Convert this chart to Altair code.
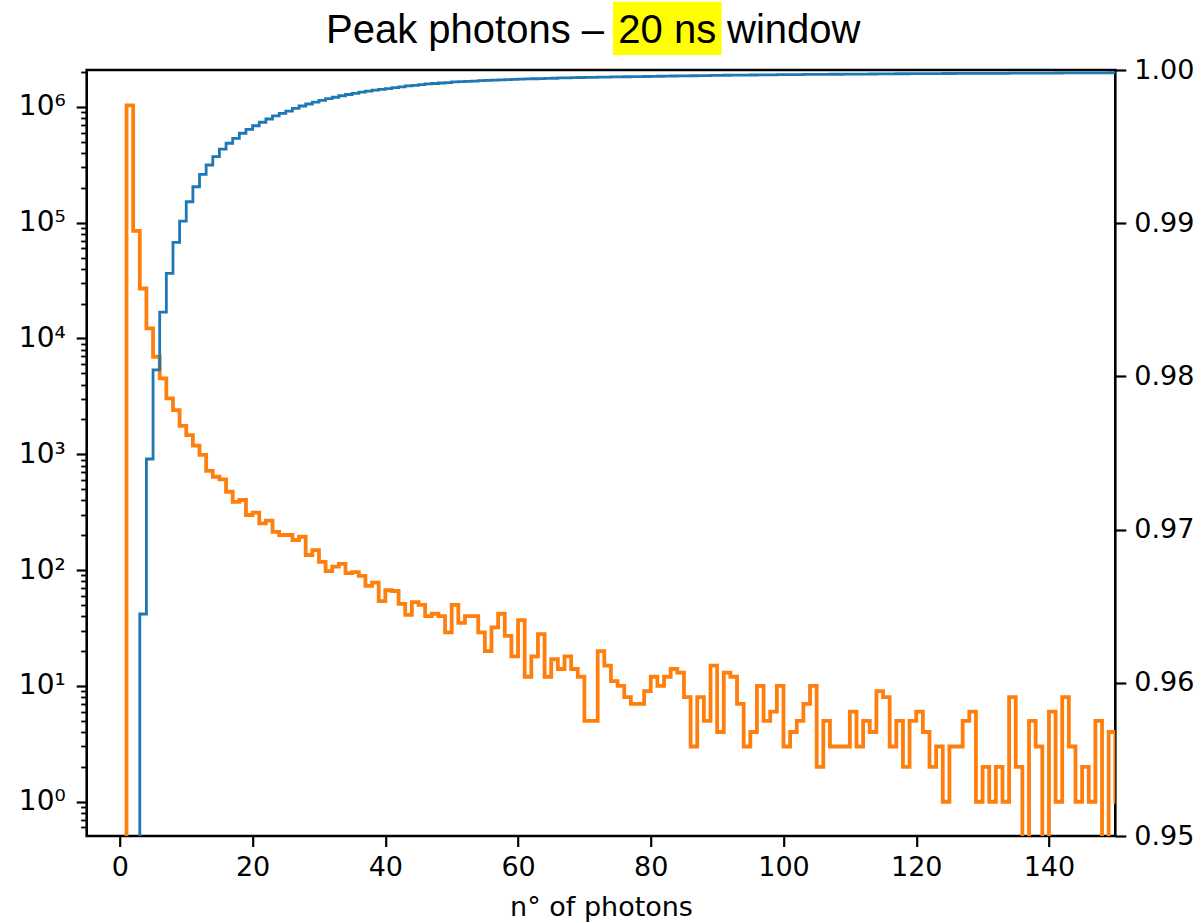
import altair as alt
import pandas as pd

# Unit-width photon-count bins (left edges)
photon_bins = list(range(0, 151))

# Events per bin, peak photons in a 20 ns window
peak_counts = [
    0, 1030000, 85000, 27000, 12200, 6950, 4520, 3040, 2410, 1760,   # 0-9
    1465, 1190, 990, 720, 640, 607, 475, 389, 403, 299,             # 10-19
    313, 253, 267, 214, 201, 201, 182, 194, 135, 149,               # 20-29
    118, 98, 107, 113, 94, 96, 89, 73, 78, 54,                      # 30-39
    67, 66, 51, 41, 53, 50, 40, 42, 40, 29,                         # 40-49
    50, 35, 40, 40, 29, 20, 32, 42, 27, 18,                         # 50-59
    37, 12, 18, 28, 12, 17, 14, 18, 14, 12,                         # 60-69
    5, 5, 20, 15, 11, 10, 8, 7, 7, 9,                               # 70-79
    12, 10, 12, 14, 13, 8, 3, 8, 5, 15,                             # 80-89
    4, 13, 12, 7, 3, 4, 10, 5, 6, 10,                               # 90-99
    3, 4, 5, 7, 10, 2, 5, 3, 3, 3,                                  # 100-109
    6, 3, 5, 4, 9, 8, 3, 5, 2, 5,                                   # 110-119
    6, 4, 2, 3, 1, 3, 3, 5, 6, 1,                                   # 120-129
    2, 1, 2, 1, 8, 2, 0, 5, 3, 0,                                   # 130-139
    6, 1, 8, 3, 1, 2, 1, 5, 0, 4,                                   # 140-149
    1,                                                              # 150
]

# Cumulative fraction of events (right axis)
cum_bins = list(range(2, 151))
cum_fraction = [
    0.94100, 0.96449, 0.97461, 0.98042, 0.98419, 0.98673, 0.98875, 0.99014, 0.99140, 0.99238,
    0.99319, 0.99380, 0.99434, 0.99484, 0.99522, 0.99554, 0.99587, 0.99613, 0.99636, 0.99659,
    0.99680, 0.99700, 0.99717, 0.99732, 0.99750, 0.99765, 0.99778, 0.99790, 0.99802, 0.99813,
    0.99822, 0.99832, 0.99840, 0.99848, 0.99855, 0.99862, 0.99868, 0.99873, 0.99879, 0.99885,
    0.99890, 0.99896, 0.99900, 0.99905, 0.99909, 0.99912, 0.99915, 0.99918, 0.99922, 0.99924,
    0.99926, 0.99928, 0.99930, 0.99932, 0.99934, 0.99935, 0.99937, 0.99939, 0.99941, 0.99942,
    0.99943, 0.99944, 0.99945, 0.99946, 0.99948, 0.999492, 0.999502, 0.999510, 0.999513, 0.999517,
    0.999531, 0.999541, 0.999548, 0.999555, 0.999561, 0.999565, 0.999570, 0.999576, 0.999584, 0.999591,
    0.999599, 0.999609, 0.999618, 0.999623, 0.999625, 0.999631, 0.999634, 0.999644, 0.999647, 0.999656,
    0.999664, 0.999669, 0.999671, 0.999674, 0.999681, 0.999684, 0.999688, 0.999695, 0.999697, 0.999700,
    0.999703, 0.999708, 0.999715, 0.999716, 0.999719, 0.999721, 0.999723, 0.999725, 0.999729, 0.999731,
    0.999735, 0.999738, 0.999744, 0.999749, 0.999751, 0.999755, 0.999756, 0.999759, 0.999763, 0.999766,
    0.999767, 0.999769, 0.999770, 0.999772, 0.999774, 0.999777, 0.999781, 0.999782, 0.999783, 0.999784,
    0.999785, 0.999786, 0.999791, 0.999793, 0.999793, 0.999796, 0.999798, 0.999798, 0.999802, 0.999803,
    0.999808, 0.999810, 0.999811, 0.999812, 0.999813, 0.999816, 0.999816, 0.999819, 0.999820,
]

x_ticks = [0, 20, 40, 60, 80, 100, 120, 140]
log_major = [1, 10, 100, 1000, 10000, 100000, 1000000]
log_minor = [m * 10 ** e for e in range(-1, 7) for m in range(2, 10)]
frac_ticks = [0.95, 0.96, 0.97, 0.98, 0.99, 1.00]
title_parts = ["Peak photons \u2013", "20 ns", "window"]

ORANGE = "#ff7f0e"
BLUE = "#1f77b4"
LOG_DOMAIN = [0.506, 2.08e6]

# step lines need the closing right edge of the last bin
hist = pd.DataFrame({"edge": photon_bins + [photon_bins[-1] + 1],
                     "n": peak_counts + [peak_counts[-1]]})
cum = pd.DataFrame({"edge": cum_bins + [cum_bins[-1] + 1],
                    "frac": cum_fraction + [cum_fraction[-1]]})

x_enc = alt.X(
    "edge:Q",
    scale=alt.Scale(domain=[-5, 150], nice=False, zero=False),
    axis=alt.Axis(values=x_ticks, title="n\u00b0 of photons", labelFlush=False,
                  tickSize=10.5, labelPadding=8, titlePadding=14),
)

sup = "['\u2070','\u00b9','\u00b2','\u00b3','\u2074','\u2075','\u2076']"

hist_base = alt.Chart(hist).transform_calculate(n_plot="max(datum.n, 0.01)")

hist_line = hist_base.mark_line(
    interpolate="step-after", color=ORANGE, strokeWidth=3.8, clip=True
).encode(
    x=x_enc,
    y=alt.Y(
        "n_plot:Q",
        scale=alt.Scale(type="log", domain=LOG_DOMAIN, nice=False),
        axis=alt.Axis(
            orient="left", title=None, values=log_major,
            labelExpr=f"'10' + {sup}[round(log(datum.value)/LN10)]",
            tickSize=10.5, labelPadding=11, labelFontSize=28,
        ),
    ),
)

# invisible copy of the histogram that carries the minor log ticks
minor_ticks = hist_base.mark_line(strokeOpacity=0, clip=True).encode(
    x=x_enc,
    y=alt.Y(
        "n_plot:Q",
        scale=alt.Scale(type="log", domain=LOG_DOMAIN, nice=False),
        axis=alt.Axis(orient="left", title=None, values=log_minor,
                      labels=False, tickSize=6, tickWidth=1.8),
    ),
)

cum_line = alt.Chart(cum).mark_line(
    interpolate="step-after", color=BLUE, strokeWidth=2.8, clip=True
).encode(
    x=x_enc,
    y=alt.Y(
        "frac:Q",
        scale=alt.Scale(domain=[0.95, 1.0], nice=False, zero=False),
        axis=alt.Axis(orient="right", title=None, values=frac_ticks, format=".2f",
                      tickSize=10.5, labelPadding=8),
    ),
)

one_row = alt.InlineData(values=[{}])
highlight = alt.Chart(one_row).mark_rect(color="#ffff00").encode(
    x=alt.value(526.3), x2=alt.value(634.8), y=alt.value(-68.3), y2=alt.value(-15)
)
title_font = dict(font="Liberation Sans", fontSize=40, color="black", baseline="alphabetic")
t1 = alt.Chart(one_row).mark_text(text=title_parts[0], align="right", **title_font).encode(
    x=alt.value(517.3), y=alt.value(-26.7))
t2 = alt.Chart(one_row).mark_text(text=title_parts[1], align="center", **title_font).encode(
    x=alt.value(580.5), y=alt.value(-26.7))
t3 = alt.Chart(one_row).mark_text(text=title_parts[2], align="left", **title_font).encode(
    x=alt.value(640.3), y=alt.value(-26.7))

chart = alt.layer(hist_line, minor_ticks, cum_line, highlight, t1, t2, t3).resolve_scale(
    y="independent"
).properties(
    width=1028.6, height=766,
    autosize=alt.AutoSizeParams(type="none"),
    padding={"left": 86.7, "top": 70, "right": 86.7, "bottom": 87},
    background="white",
).configure_view(
    stroke="black", strokeWidth=2.6
).configure_axis(
    domain=False, grid=False,
    labelFont="DejaVu Sans", labelFontSize=27, labelColor="black",
    tickColor="black", tickWidth=2.2,
    titleFont="DejaVu Sans", titleFontSize=27, titleFontWeight="normal", titleColor="black",
)

chart.save("out.html", embed_options={"renderer": "svg", "actions": False})
